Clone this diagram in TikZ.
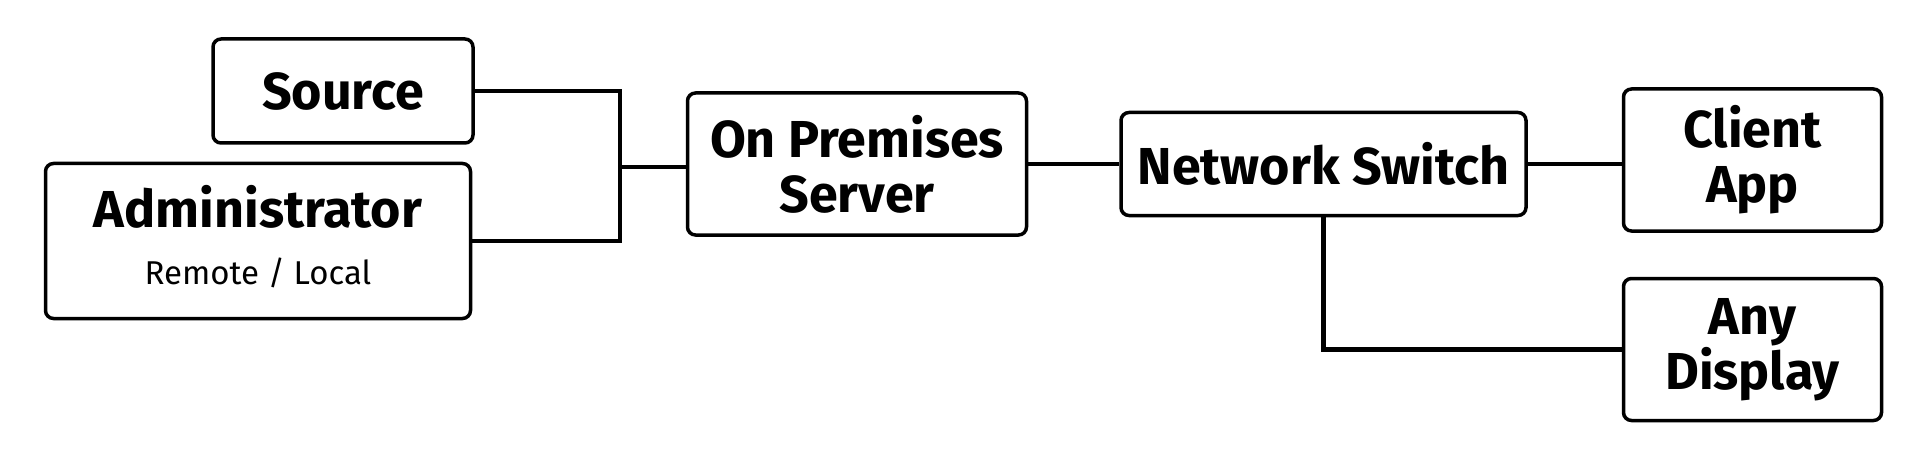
\documentclass[tikz,border=0pt]{standalone}
\usepackage{fontspec}
\setmainfont{Fira Sans}
\usetikzlibrary{positioning}

\begin{document}
\begin{tikzpicture}[
    x=1pt, y=1pt,
    node distance=40pt and 94pt,
    base/.style={draw, rectangle, rounded corners=8pt, line width=3.5pt,
                 align=center, inner sep=0pt,
                 font=\fontsize{52}{55}\selectfont\bfseries},
    unit/.style={base, minimum width=258pt, minimum height=142pt},
    wire/.style={line width=4.5pt},
  ]
    \useasboundingbox (0,0) rectangle (1920,456);
    % ---- Inputs on the left ----
    \node[base, minimum width=260pt, minimum height=104pt] (src) at (343,365) {Source};
    \node[base, minimum width=425pt, minimum height=155pt] (admin) at (258,215)
      {Administrator\\[2pt]{\fontsize{33}{36}\selectfont\mdseries Remote / Local\rule[-12pt]{0pt}{0pt}}};
    % ---- Server, switch and outputs ----
    \node[unit, minimum width=339pt] (server) at (857,292) {On Premises\\Server};
    \node[base, minimum width=405pt, minimum height=103pt, right=91pt of server] (switch) {Network Switch};
    \node[unit, right=94pt of switch, yshift=4pt] (client) {Client\\App};
    \node[unit, below=44pt of client] (display) {Any\\Display};

    % ---- Fork joining the inputs ----
    \path (server.west) ++(-66,-3) coordinate (fork);
    \draw[wire] (src.east) -| (fork) |- (admin.east);
    \draw[wire] (fork) -- (fork -| server.west);
    % ---- Network side ----
    \draw[wire] (server) -- (switch);
    \draw[wire] (switch) -- (switch -| client.west);
    \draw[wire] (switch.south) |- (display.west);
  \end{tikzpicture}
\end{document}
